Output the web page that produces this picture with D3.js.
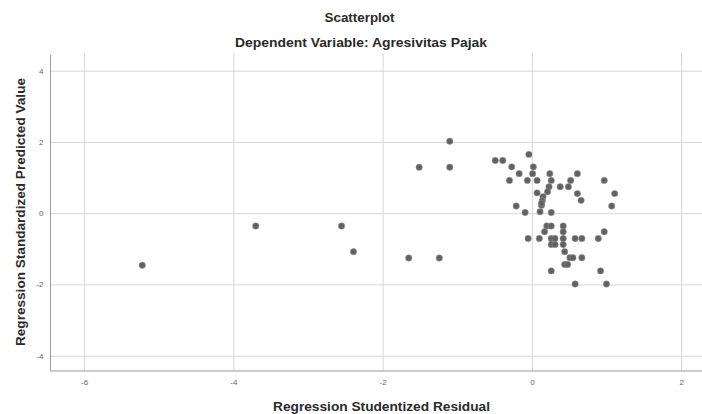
<!DOCTYPE html>
<html>
<head>
<meta charset="utf-8">
<script src="https://cdn.jsdelivr.net/npm/d3@7"></script>
<style>
  body { margin: 0; background: #fff; }
  svg { display: block; font-family: "Liberation Sans", Arial, sans-serif; }
</style>
</head>
<body>
<svg id="chart"></svg>
<script>
// studentized residual (x) and standardized predicted value (y)
let residual = [
    -5.22, -3.70, -2.55, -2.39, -1.65, -1.24, -1.51, -1.10, -1.10,
    -0.04, -0.49, -0.39, -0.27, -0.17, 0.02, 0.01, -0.30, -0.06, 0.07,
    0.24, 0.26, 0.23, 0.38, 0.49, 0.52, 0.61, 0.97, 1.11, 0.61, 0.66,
    1.07, 0.07, 0.21, 0.15, 0.14, 0.13, 0.11, -0.21, -0.09, 0.26, 0.13,
    0.20, 0.26, 0.42, 0.17, 0.42, 0.97,
    -0.05, 0.10, 0.26, 0.31, 0.42, 0.58, 0.67, 0.89,
    0.26, 0.31, 0.42, 0.44, 0.51, 0.55, 0.67, 0.44, 0.48,
    0.26, 0.92, 0.58, 1.00
]
let predicted = [
    -1.46, -0.36, -0.36, -1.08, -1.26, -1.26, 1.29, 1.29, 2.02,
    1.65, 1.48, 1.48, 1.30, 1.11, 1.30, 1.11, 0.92, 0.92, 0.92,
    1.11, 0.92, 0.74, 0.74, 0.74, 0.92, 1.11, 0.92, 0.55, 0.55, 0.36,
    0.20, 0.57, 0.60, 0.46, 0.35, 0.22, 0.04, 0.20, 0.02, 0.02, 0.28,
    -0.36, -0.36, -0.36, -0.52, -0.52, -0.52,
    -0.71, -0.71, -0.71, -0.71, -0.71, -0.71, -0.71, -0.71,
    -0.88, -0.88, -0.88, -1.08, -1.25, -1.25, -1.25, -1.44, -1.44,
    -1.62, -1.62, -1.99, -1.99
]
let xTicks = [-6, -4, -2, 0, 2]
let yTicks = [-4, -2, 0, 2, 4]

let title = "Scatterplot"
let subtitle = "Dependent Variable: Agresivitas Pajak"
let xTitle = "Regression Studentized Residual"
let yTitle = "Regression Standardized Predicted Value"

let data = residual.map((r, i) => ({ x: r, y: predicted[i] }))

let width = 702
let height = 414
let plotLeft = 50.5, plotRight = 702, plotTop = 55, plotBottom = 371

let chart = d3.select("#chart").attr("width", width).attr("height", height)

let xscale = d3.scaleLinear()
    .domain([-6.45, 2.28])
    .range([plotLeft, plotRight])

let yscale = d3.scaleLinear()
    .domain([-4.43, 4.44])
    .range([plotBottom, plotTop])

// grid lines
chart.append("g")
    .attr("transform", "translate(0," + plotBottom + ")")
    .call(d3.axisBottom(xscale).tickValues(xTicks).tickSize(-(plotBottom - plotTop + 2)).tickFormat(""))
    .call(g => g.select(".domain").remove())
    .selectAll("line").attr("stroke", "#d6d6d6")

chart.append("g")
    .attr("transform", "translate(" + plotLeft + ",0)")
    .call(d3.axisLeft(yscale).tickValues(yTicks).tickSize(-(plotRight - plotLeft)).tickFormat(""))
    .call(g => g.select(".domain").remove())
    .selectAll("line").attr("stroke", "#d6d6d6")

// axis lines + tick labels
chart.append("g")
    .attr("transform", "translate(0," + plotBottom + ")")
    .call(d3.axisBottom(xscale).tickValues(xTicks).tickSize(0).tickPadding(8).tickFormat(d => String(d)))
    .call(g => g.select(".domain").attr("stroke", "#9a9a9a").attr("d", "M" + plotLeft + ",0H" + plotRight))
    .selectAll("text").attr("fill", "#666").style("font-size", "8px")
    .style("font-family", "Liberation Sans, Arial, sans-serif")

chart.append("g")
    .attr("transform", "translate(" + plotLeft + ",0)")
    .call(d3.axisLeft(yscale).tickValues(yTicks).tickSize(0).tickPadding(7).tickFormat(d => String(d)))
    .call(g => g.select(".domain").attr("stroke", "#9a9a9a").attr("d", "M0," + plotTop + "V" + plotBottom))
    .selectAll("text").attr("fill", "#666").style("font-size", "8px")
    .style("font-family", "Liberation Sans, Arial, sans-serif")

// points
chart.append("g").selectAll("circle").data(data)
    .enter().append("circle")
    .attr("cx", d => xscale(d.x))
    .attr("cy", d => yscale(d.y))
    .attr("r", 3.2)
    .style("fill", "#626262")
    .style("stroke", "#999")
    .style("stroke-width", 0.5)

// titles
function label(txt, x, y, len) {
    return chart.append("text")
        .attr("x", x).attr("y", y)
        .attr("textLength", len).attr("lengthAdjust", "spacingAndGlyphs")
        .style("text-anchor", "middle")
        .style("font-size", "12px").style("font-weight", "bold").attr("fill", "#2a2a2a")
        .text(txt)
}

label(title, 359.5, 22, 70)
label(subtitle, 361, 47, 252)
label(xTitle, 381.5, 411, 217)
label(yTitle, 0, 0, 268)
    .attr("transform", "translate(" + 25 + "," + 212 + ") rotate(-90)")
</script>
</body>
</html>
